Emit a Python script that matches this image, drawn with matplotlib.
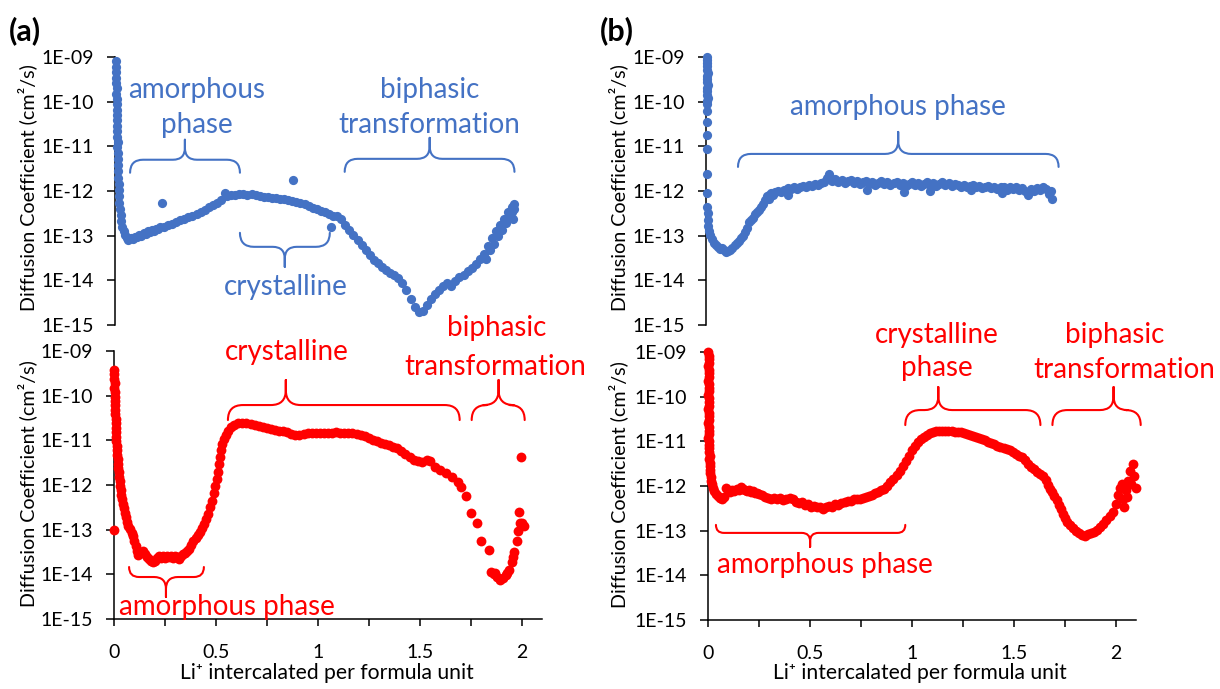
import numpy as np
import matplotlib
matplotlib.use("Agg")
import matplotlib.pyplot as plt
from matplotlib.path import Path
from matplotlib.patches import PathPatch
from matplotlib.ticker import FixedLocator, FuncFormatter, MultipleLocator, NullLocator

# ---------------------------------------------------------------- data
# Li+ per formula unit and log10 of the diffusion coefficient (cm^2/s)

X_A_BLUE = [
    0.004, 0.006, 0.005, 0.007, 0.006, 0.008, 0.007, 0.009, 0.008, 0.010,
    0.009, 0.011, 0.010, 0.012, 0.011, 0.013, 0.012, 0.014, 0.015, 0.016,
    0.016, 0.017, 0.018, 0.019, 0.020, 0.022, 0.024, 0.027, 0.031, 0.036,
    0.042, 0.050, 0.058, 0.066, 0.078, 0.090, 0.100, 0.110, 0.120, 0.130,
    0.140, 0.150, 0.160, 0.170, 0.180, 0.190, 0.200, 0.210, 0.220,
    0.24, 0.26, 0.28, 0.30, 0.32, 0.34, 0.36, 0.38, 0.40, 0.42,
    0.44, 0.46, 0.48, 0.50, 0.52, 0.54, 0.55, 0.57, 0.59, 0.61,
    0.63, 0.65, 0.67, 0.69, 0.71, 0.73, 0.75, 0.77, 0.79, 0.81,
    0.83, 0.85, 0.87, 0.89, 0.91, 0.93, 0.95, 0.97, 0.99, 1.01,
    1.03, 1.05, 1.07, 1.09, 1.11, 1.13, 1.15, 1.17, 1.19, 1.21,
    1.23, 1.25, 1.27, 1.29, 1.31, 1.33, 1.35, 1.37, 1.39, 1.41,
    1.43, 1.45, 1.47, 1.49, 1.51, 1.53, 1.55, 1.57, 1.59, 1.61,
    1.63, 1.65, 1.67, 1.69, 1.71, 1.73, 1.75, 1.77, 1.79, 1.81,
    1.83, 1.85, 1.87, 1.89, 1.91, 1.93, 1.95, 1.96,
    1.82, 1.84, 1.86, 1.88, 1.90, 1.92, 1.94, 1.95, 1.96, 1.955,
    0.232, 0.872, 1.060,
]
L_A_BLUE = [
    -9.10, -9.22, -9.34, -9.46, -9.58, -9.70, -9.82, -9.94, -10.06, -10.18,
    -10.30, -10.42, -10.54, -10.66, -10.78, -10.90, -11.02, -11.14, -11.28, -11.42,
    -11.56, -11.70, -11.84, -11.98, -12.12, -12.26, -12.40, -12.54, -12.68, -12.80,
    -12.90, -12.99, -13.05, -13.10, -13.06, -13.08, -13.02, -13.04, -12.98, -13.00,
    -12.94, -12.96, -12.90, -12.92, -12.87, -12.89, -12.84, -12.85, -12.81,
    -12.80, -12.76, -12.73, -12.69, -12.66, -12.62, -12.59, -12.55, -12.51, -12.46,
    -12.42, -12.36, -12.32, -12.26, -12.20, -12.04, -12.12, -12.09, -12.10, -12.07,
    -12.06, -12.08, -12.07, -12.10, -12.11, -12.13, -12.14, -12.15, -12.16, -12.17,
    -12.18, -12.20, -12.22, -12.25, -12.27, -12.30, -12.33, -12.37, -12.41, -12.45,
    -12.48, -12.52, -12.55, -12.57, -12.63, -12.75, -12.87, -12.99, -13.10, -13.22,
    -13.33, -13.44, -13.54, -13.62, -13.70, -13.77, -13.83, -13.89, -13.95, -14.05,
    -14.22, -14.42, -14.60, -14.70, -14.68, -14.55, -14.42, -14.31, -14.22, -14.12,
    -14.05, -14.13, -14.02, -13.93, -13.87, -13.80, -13.72, -13.63, -13.52, -13.40,
    -13.24, -13.06, -12.90, -12.76, -12.62, -12.48, -12.36, -12.30,
    -13.52, -13.32, -13.18, -13.00, -12.88, -12.72, -12.58, -12.48, -12.40, -12.62,
    -12.27, -11.75, -12.80,
]

X_A_RED = [
    0.000, 0.002, 0.001, 0.003, 0.002, 0.004, 0.003, 0.005, 0.004, 0.006,
    0.006, 0.008, 0.008, 0.010, 0.010, 0.012, 0.012, 0.014, 0.015, 0.016,
    0.018, 0.019, 0.021, 0.023, 0.025, 0.027, 0.030, 0.033, 0.036, 0.040,
    0.044, 0.048, 0.053, 0.058, 0.064, 0.070, 0.078, 0.086, 0.094, 0.100,
    0.106, 0.112, 0.120, 0.130, 0.140, 0.150, 0.160, 0.170, 0.180, 0.190,
    0.200, 0.210, 0.220, 0.230, 0.240, 0.250, 0.260, 0.270, 0.280, 0.290,
    0.300, 0.310, 0.320, 0.330, 0.340, 0.350, 0.360, 0.370, 0.380, 0.390,
    0.400, 0.410, 0.420, 0.430, 0.440, 0.450, 0.460, 0.470, 0.480, 0.490,
    0.497, 0.503, 0.508, 0.513, 0.518, 0.524, 0.530, 0.538, 0.548, 0.560,
    0.575, 0.590, 0.610, 0.630, 0.650, 0.670, 0.690, 0.710, 0.730, 0.750,
    0.770, 0.790, 0.810, 0.830, 0.850, 0.870, 0.890, 0.910, 0.930, 0.950,
    0.970, 0.990, 1.010, 1.030, 1.050, 1.070, 1.090, 1.110, 1.130, 1.150,
    1.170, 1.190, 1.210, 1.230, 1.250, 1.270, 1.290, 1.310, 1.330, 1.350,
    1.370, 1.390, 1.410, 1.430, 1.450, 1.470, 1.490, 1.510, 1.535, 1.550,
    1.575, 1.600, 1.630, 1.660, 1.690, 1.705, 1.725, 1.752, 1.782, 1.800,
    1.840, 1.850, 1.865, 1.880, 1.895, 1.910, 1.925, 1.940, 1.955, 1.965,
    1.975, 1.980, 1.990, 2.000, 2.010, 1.985, 1.995, 1.870, 1.930, 1.960,
    0.000,
]
L_A_RED = [
    -9.43, -9.52, -9.62, -9.72, -9.82, -9.92, -10.02, -10.12, -10.22, -10.32,
    -10.42, -10.52, -10.62, -10.72, -10.82, -10.92, -11.02, -11.12, -11.22, -11.32,
    -11.42, -11.52, -11.62, -11.72, -11.82, -11.92, -12.02, -12.12, -12.22, -12.32,
    -12.42, -12.52, -12.62, -12.72, -12.82, -12.91, -12.99, -13.07, -13.15, -13.25,
    -13.36, -13.47, -13.56, -13.52, -13.47, -13.55, -13.62, -13.66, -13.70, -13.73,
    -13.70, -13.64, -13.60, -13.64, -13.60, -13.63, -13.59, -13.62, -13.60, -13.63,
    -13.60, -13.62, -13.65, -13.58, -13.55, -13.52, -13.48, -13.43, -13.35, -13.26,
    -13.18, -13.12, -13.05, -12.97, -12.87, -12.76, -12.64, -12.50, -12.35, -12.18,
    -12.02, -11.86, -11.70, -11.54, -11.38, -11.22, -11.08, -10.97, -10.87, -10.78,
    -10.71, -10.66, -10.62, -10.61, -10.62, -10.64, -10.66, -10.68, -10.70, -10.72,
    -10.74, -10.76, -10.78, -10.80, -10.82, -10.85, -10.87, -10.88, -10.86, -10.83,
    -10.84, -10.83, -10.84, -10.83, -10.84, -10.83, -10.82, -10.83, -10.84, -10.83,
    -10.84, -10.86, -10.88, -10.91, -10.95, -10.99, -11.02, -11.05, -11.08, -11.11,
    -11.14, -11.17, -11.24, -11.31, -11.38, -11.43, -11.47, -11.49, -11.43, -11.46,
    -11.60, -11.67, -11.73, -11.82, -11.93, -12.04, -12.24, -12.62, -12.85, -13.25,
    -13.45, -13.94, -14.00, -14.06, -14.12, -14.08, -14.02, -13.90, -13.72, -13.50,
    -13.25, -13.02, -12.86, -12.86, -12.92, -12.60, -11.37, -13.96, -13.96, -13.62,
    -13.00,
]

X_B_BLUE = [
    0.003, 0.006, 0.004, 0.007, 0.005, 0.008, 0.004, 0.007, 0.005, 0.008,
    0.004, 0.007, 0.005, 0.008, 0.006, 0.005, 0.006, 0.005, 0.006, 0.005,
    0.006, 0.005, 0.007, 0.008, 0.010, 0.012, 0.016, 0.022, 0.030, 0.040,
    0.050, 0.060, 0.070, 0.080, 0.090, 0.100, 0.110, 0.120, 0.130, 0.140,
    0.150, 0.160, 0.170, 0.180, 0.190, 0.200, 0.210, 0.220, 0.230, 0.240,
    0.250, 0.260, 0.270, 0.280, 0.290, 0.300, 0.310, 0.320, 0.330, 0.340,
    0.355, 0.370, 0.385, 0.400, 0.415, 0.430, 0.445, 0.460, 0.475, 0.490,
    0.505, 0.520, 0.535, 0.550, 0.565, 0.580, 0.595, 0.605, 0.620, 0.635,
    0.650, 0.665, 0.680, 0.695, 0.710, 0.725, 0.740, 0.755, 0.770, 0.785,
    0.800, 0.815, 0.830, 0.845, 0.860, 0.875, 0.890, 0.905, 0.920, 0.935,
    0.950, 0.965, 0.980, 0.995, 1.010, 1.025, 1.040, 1.055, 1.070, 1.085,
    1.100, 1.115, 1.130, 1.145, 1.160, 1.175, 1.190, 1.205, 1.220, 1.235,
    1.250, 1.265, 1.280, 1.295, 1.310, 1.325, 1.340, 1.355, 1.370, 1.385,
    1.400, 1.415, 1.430, 1.445, 1.460, 1.475, 1.490, 1.505, 1.520, 1.535,
    1.550, 1.565, 1.580, 1.595, 1.610, 1.625, 1.640, 1.655, 1.670, 1.685,
    1.695, 1.700, 0.970, 0.400, 0.310, 0.790, 1.100, 1.300, 1.450,
]
L_B_BLUE = [
    -9.00, -9.07, -9.14, -9.21, -9.28, -9.35, -9.42, -9.49, -9.56, -9.63,
    -9.70, -9.77, -9.84, -9.91, -9.98, -10.05, -10.22, -10.45, -10.75, -11.05,
    -11.63, -12.05, -12.35, -12.50, -12.65, -12.78, -12.90, -12.98, -13.08, -13.16,
    -13.22, -13.26, -13.29, -13.28, -13.33, -13.36, -13.34, -13.32, -13.28, -13.22,
    -13.16, -13.12, -13.05, -13.00, -12.92, -12.82, -12.70, -12.66, -12.60, -12.52,
    -12.48, -12.42, -12.35, -12.28, -12.20, -12.12, -12.08, -12.05, -12.10, -12.03,
    -12.01, -12.03, -11.98, -11.94, -11.96, -11.92, -11.95, -11.90, -11.88, -11.92,
    -11.86, -11.88, -11.84, -11.86, -11.82, -11.80, -11.72, -11.62, -11.78, -11.74,
    -11.80, -11.76, -11.82, -11.78, -11.76, -11.82, -11.78, -11.84, -11.80, -11.78,
    -11.84, -11.80, -11.86, -11.82, -11.78, -11.84, -11.80, -11.86, -11.82, -11.80,
    -11.86, -11.82, -11.88, -11.84, -11.80, -11.86, -11.82, -11.88, -11.84, -11.80,
    -11.86, -11.82, -11.88, -11.84, -11.80, -11.86, -11.82, -11.88, -11.84, -11.86,
    -11.90, -11.86, -11.92, -11.88, -11.86, -11.92, -11.88, -11.94, -11.90, -11.88,
    -11.94, -11.90, -11.96, -11.92, -11.90, -11.98, -11.92, -11.96, -11.92, -11.98,
    -11.94, -12.00, -12.10, -11.96, -12.00, -11.94, -11.98, -11.92, -11.96, -12.06,
    -12.00, -12.18, -12.02, -12.10, -12.18, -11.98, -12.00, -11.98, -12.05,
]

X_B_RED = [
    0.002, 0.005, 0.003, 0.006, 0.002, 0.005, 0.003, 0.006, 0.002, 0.005,
    0.003, 0.006, 0.002, 0.005, 0.003, 0.006, 0.002, 0.005, 0.003, 0.006,
    0.002, 0.005, 0.003, 0.006, 0.002, 0.005, 0.004, 0.007, 0.005, 0.008,
    0.007, 0.010, 0.009, 0.012, 0.012, 0.015, 0.016, 0.020, 0.025, 0.030,
    0.040, 0.050, 0.060, 0.070, 0.080, 0.090, 0.100, 0.110, 0.120, 0.130,
    0.140, 0.150, 0.160, 0.170, 0.180, 0.190, 0.200, 0.210, 0.220, 0.230,
    0.240, 0.250, 0.265, 0.280, 0.295, 0.310, 0.325, 0.340, 0.355, 0.370,
    0.385, 0.400, 0.415, 0.430, 0.445, 0.460, 0.475, 0.490, 0.505, 0.520,
    0.535, 0.550, 0.565, 0.580, 0.595, 0.610, 0.625, 0.640, 0.655, 0.670,
    0.685, 0.700, 0.715, 0.730, 0.745, 0.760, 0.775, 0.790, 0.805, 0.820,
    0.835, 0.850, 0.865, 0.880, 0.895, 0.910, 0.925, 0.940, 0.955, 0.970,
    0.985, 1.000, 1.015, 1.030, 1.045, 1.060, 1.075, 1.090, 1.105, 1.120,
    1.135, 1.150, 1.165, 1.180, 1.195, 1.210, 1.225, 1.240, 1.255, 1.270,
    1.285, 1.300, 1.315, 1.330, 1.345, 1.360, 1.375, 1.390, 1.405, 1.420,
    1.435, 1.450, 1.465, 1.480, 1.495, 1.510, 1.525, 1.540, 1.555, 1.570,
    1.585, 1.600, 1.615, 1.630, 1.645, 1.660, 1.670, 1.680, 1.690, 1.700,
    1.710, 1.720, 1.730, 1.740, 1.750, 1.760, 1.775, 1.790, 1.805, 1.820,
    1.835, 1.850, 1.865, 1.880, 1.895, 1.910, 1.925, 1.940, 1.955, 1.970,
    1.985, 2.000, 2.010, 2.020, 2.030, 2.040, 2.050, 2.060, 2.070, 2.085,
    2.090, 2.100, 2.075, 2.055, 2.035,
]
L_B_RED = [
    -9.00, -9.08, -9.16, -9.24, -9.32, -9.40, -9.48, -9.56, -9.64, -9.72,
    -9.80, -9.88, -9.96, -10.04, -10.12, -10.20, -10.28, -10.36, -10.44, -10.52,
    -10.60, -10.68, -10.76, -10.84, -10.92, -11.00, -11.08, -11.16, -11.24, -11.32,
    -11.40, -11.48, -11.56, -11.64, -11.72, -11.80, -11.88, -11.96, -12.05, -12.12,
    -12.18, -12.22, -12.26, -12.30, -12.24, -12.04, -12.10, -12.14, -12.08, -12.12,
    -12.06, -12.08, -12.03, -12.06, -12.08, -12.12, -12.10, -12.14, -12.12, -12.16,
    -12.15, -12.18, -12.20, -12.24, -12.27, -12.29, -12.27, -12.30, -12.27, -12.31,
    -12.28, -12.26, -12.30, -12.35, -12.38, -12.36, -12.42, -12.40, -12.46, -12.44,
    -12.48, -12.46, -12.52, -12.48, -12.44, -12.46, -12.40, -12.42, -12.38, -12.36,
    -12.33, -12.34, -12.30, -12.28, -12.30, -12.26, -12.24, -12.22, -12.20, -12.16,
    -12.14, -12.10, -12.06, -12.00, -11.92, -11.84, -11.75, -11.66, -11.55, -11.44,
    -11.32, -11.20, -11.10, -11.02, -10.95, -10.90, -10.86, -10.82, -10.79, -10.77,
    -10.76, -10.76, -10.76, -10.77, -10.77, -10.78, -10.79, -10.80, -10.82, -10.84,
    -10.86, -10.88, -10.90, -10.92, -10.95, -10.98, -11.01, -11.04, -11.07, -11.10,
    -11.13, -11.15, -11.18, -11.20, -11.24, -11.28, -11.32, -11.36, -11.42, -11.50,
    -11.57, -11.63, -11.68, -11.73, -11.78, -11.86, -11.98, -12.06, -12.14, -12.22,
    -12.32, -12.42, -12.52, -12.62, -12.72, -12.80, -12.88, -12.95, -13.00, -13.05,
    -13.09, -13.12, -13.08, -13.06, -13.03, -12.98, -12.92, -12.84, -12.76, -12.68,
    -12.58, -12.40, -12.20, -12.05, -11.95, -12.48, -12.10, -11.88, -11.66, -11.50,
    -11.78, -12.04, -11.95, -12.25, -12.30,
]

Y_DECADES = list(range(-15, -8))
X_MAJOR_STEP = 0.5
X_MINOR_STEP = 0.25
X_MAX = 2.1

YLABEL = "Diffusion Coefficient (cm\u00b2/s)"
XLABEL = "Li\u207a intercalated per formula unit"

# ---------------------------------------------------------------- style
BLUE = "#4472C4"
RED = "#FF0000"
plt.rcParams["font.family"] = ["Lato", "DejaVu Sans"]

W, H = 1220, 689
fig = plt.figure(figsize=(W / 100, H / 100), dpi=100)


def rect(left, top, right, bottom):
    return [left / W, 1 - bottom / H, (right - left) / W, (bottom - top) / H]


ax_a_top = fig.add_axes(rect(115, 57, 543, 325))
ax_a_bot = fig.add_axes(rect(114, 351, 542, 619))
ax_b_top = fig.add_axes(rect(706, 57, 1134, 325))
ax_b_bot = fig.add_axes(rect(708, 352, 1136, 620))


def decade_label(v, _pos):
    e = int(round(np.log10(v)))
    return f"1E-{-e:02d}"


def setup(ax, show_x):
    ax.set_yscale("log")
    ax.set_ylim(10.0 ** Y_DECADES[0], 10.0 ** Y_DECADES[-1])
    ax.set_xlim(0, X_MAX)
    ax.yaxis.set_major_locator(FixedLocator([10.0 ** e for e in Y_DECADES]))
    ax.yaxis.set_minor_locator(NullLocator())
    ax.yaxis.set_major_formatter(FuncFormatter(decade_label))
    for s in ("top", "right"):
        ax.spines[s].set_visible(False)
    ax.spines["left"].set_linewidth(1.1)
    ax.spines["bottom"].set_linewidth(1.1)
    ax.tick_params(axis="y", direction="out", length=6, width=1.1, pad=9,
                   labelsize=14, colors="black")
    if show_x:
        ax.xaxis.set_major_locator(MultipleLocator(X_MAJOR_STEP))
        ax.xaxis.set_minor_locator(MultipleLocator(X_MINOR_STEP))
        ax.xaxis.set_major_formatter(FuncFormatter(lambda v, p: f"{v:g}"))
        ax.tick_params(axis="x", which="both", direction="out", length=5,
                       width=1.1, pad=13, labelsize=14, colors="black")
    else:
        ax.spines["bottom"].set_visible(False)
        ax.tick_params(axis="x", which="both", bottom=False, labelbottom=False)
    ax.patch.set_alpha(0)


for ax, show_x in ((ax_a_top, False), (ax_a_bot, True),
                   (ax_b_top, False), (ax_b_bot, True)):
    setup(ax, show_x)


def scatter(ax, xs, logs, color, size):
    ax.scatter(xs, np.power(10.0, logs), s=size, color=color,
               linewidths=0, clip_on=False, zorder=3)


scatter(ax_a_top, X_A_BLUE, L_A_BLUE, BLUE, 44)
scatter(ax_a_bot, X_A_RED, L_A_RED, RED, 50)
scatter(ax_b_top, X_B_BLUE, L_B_BLUE, BLUE, 44)
scatter(ax_b_bot, X_B_RED, L_B_RED, RED, 50)


def brace(ax, x0, x1, xm, ybar, end_px, tip_px, up, color):
    """Curly brace spanning x0..x1 with its point at xm (offsets in pixels)."""
    X0, Y = ax.transData.transform((x0, 10.0 ** ybar))
    X1, _ = ax.transData.transform((x1, 10.0 ** ybar))
    Xm, _ = ax.transData.transform((xm, 10.0 ** ybar))
    d = 1 if up else -1
    e, t = end_px, tip_px
    rc = 0.6 * t
    verts = [
        (X0, Y - d * e), (X0, Y), (X0 + e, Y),
        (Xm - rc, Y), (Xm, Y), (Xm, Y + d * rc), (Xm, Y + d * t),
        (X1, Y - d * e), (X1, Y), (X1 - e, Y),
        (Xm + rc, Y), (Xm, Y), (Xm, Y + d * rc), (Xm, Y + d * t),
    ]
    codes = [Path.MOVETO, Path.CURVE3, Path.CURVE3,
             Path.LINETO, Path.CURVE3, Path.CURVE3, Path.LINETO] * 2
    verts = fig.transFigure.inverted().transform(verts)
    fig.add_artist(PathPatch(Path(verts, codes), transform=fig.transFigure,
                             fill=False, edgecolor=color, linewidth=1.5,
                             capstyle="round", joinstyle="round"))


def note(ax, x, ly, text, color, size=20):
    ax.text(x, 10.0 ** ly, text, color=color, fontsize=size, ha="center",
            va="center", clip_on=False, zorder=4)


# (a) upper: amorphous film
note(ax_a_top, 0.40, -9.74, "amorphous", BLUE)
note(ax_a_top, 0.40, -10.52, "phase", BLUE)
brace(ax_a_top, 0.074, 0.613, 0.343, -11.30, 13, 20, True, BLUE)
note(ax_a_top, 1.544, -9.74, "biphasic", BLUE)
note(ax_a_top, 1.544, -10.52, "transformation", BLUE)
brace(ax_a_top, 1.127, 1.960, 1.544, -11.28, 13, 21, True, BLUE)
brace(ax_a_top, 0.613, 1.054, 0.833, -13.25, 14, 20, False, BLUE)
note(ax_a_top, 0.838, -14.15, "crystalline", BLUE)

# (a) lower: crystalline film
note(ax_a_bot, 0.848, -9.02, "crystalline", RED)
brace(ax_a_bot, 0.559, 1.696, 0.843, -10.21, 15, 25, True, RED)
note(ax_a_bot, 1.877, -8.49, "biphasic", RED)
note(ax_a_bot, 1.873, -9.36, "transformation", RED)
brace(ax_a_bot, 1.755, 2.015, 1.887, -10.21, 15, 25, True, RED)
brace(ax_a_bot, 0.074, 0.441, 0.255, -14.06, 10, 20, False, RED)
note(ax_a_bot, 0.554, -14.73, "amorphous phase", RED)

# (b) upper
note(ax_b_top, 0.943, -10.12, "amorphous phase", BLUE)
brace(ax_b_top, 0.157, 1.730, 0.943, -11.17, 13, 22, True, BLUE)

# (b) lower
note(ax_b_bot, 1.125, -8.62, "crystalline", RED)
note(ax_b_bot, 1.125, -9.36, "phase", RED)
brace(ax_b_bot, 0.968, 1.631, 1.130, -10.30, 15, 23, True, RED)
note(ax_b_bot, 1.995, -8.62, "biphasic", RED)
note(ax_b_bot, 2.044, -9.40, "transformation", RED)
brace(ax_b_bot, 1.690, 2.123, 1.990, -10.30, 15, 23, True, RED)
brace(ax_b_bot, 0.039, 0.968, 0.501, -13.05, 8, 14, False, RED)
note(ax_b_bot, 0.575, -13.77, "amorphous phase", RED)

# axis titles and panel letters
for xc, yc in ((27, 188), (27, 484), (618, 188), (618, 485)):
    fig.text(xc / W, 1 - yc / H, YLABEL, rotation=90, ha="center",
             va="center", fontsize=14.2, color="black")
for xc in (327, 920):
    fig.text(xc / W, 1 - 673 / H, XLABEL, ha="center", va="center",
             fontsize=15.2, color="black")
fig.text(25 / W, 1 - 31 / H, "(a)", ha="center", va="center", fontsize=22,
         fontweight="bold")
fig.text(617 / W, 1 - 31 / H, "(b)", ha="center", va="center", fontsize=22,
         fontweight="bold")

fig.savefig("out.png", dpi=100, facecolor="white")
